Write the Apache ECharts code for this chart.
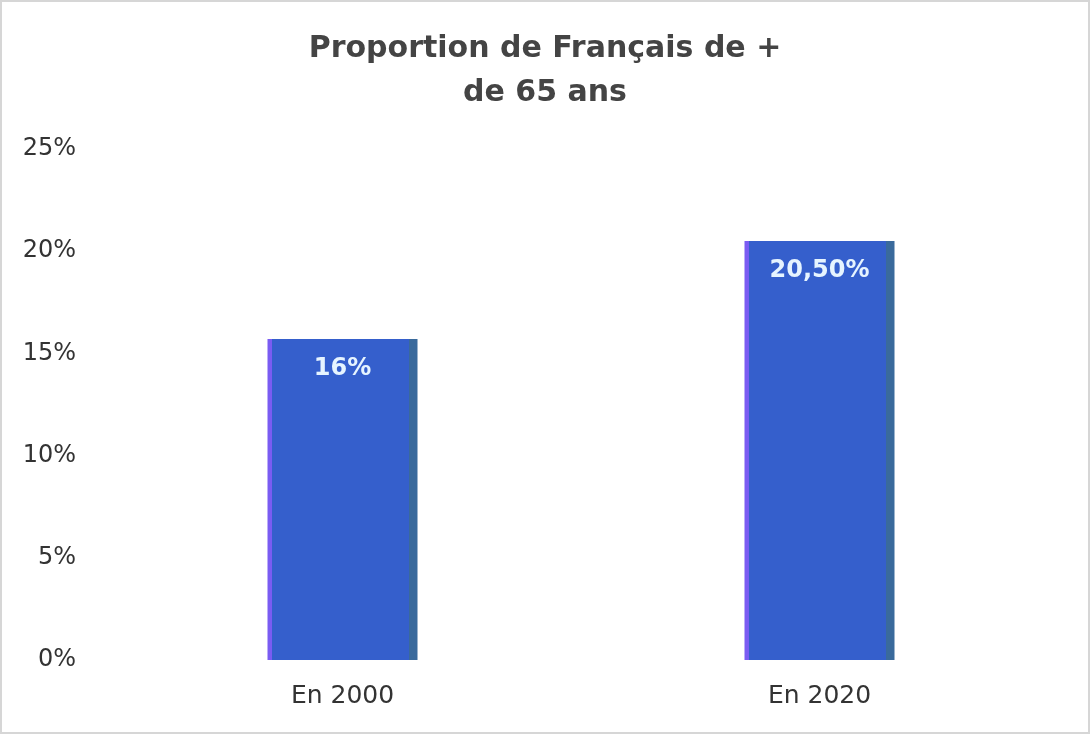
<!DOCTYPE html>
<html>
<head>
<meta charset="utf-8">
<script src="https://cdn.jsdelivr.net/npm/echarts@6/dist/echarts.min.js"></script>
<style>
  html, body { margin: 0; padding: 0; background: #fff; }
  #chart { width: 1086px; height: 730px; border: 2px solid #d6d6d6; }
</style>
</head>
<body>
<div id="chart"></div>
<script>
var categories = ['En 2000', 'En 2020'];
var values = [15.7, 20.5];
var valueLabels = ['16%', '20,50%'];
var yTicks = [0, 5, 10, 15, 20, 25];

var chart = echarts.init(document.getElementById('chart'));

var barColor = new echarts.graphic.LinearGradient(0, 0, 1, 0, [
    { offset: 0, color: '#7a5cf2' },
    { offset: 0.03, color: '#7a5cf2' },
    { offset: 0.031, color: '#355fcc' },
    { offset: 0.94, color: '#355fcc' },
    { offset: 0.941, color: '#3a6a9c' },
    { offset: 1, color: '#3a6a9c' }
]);

var option = {
    animation: false,
    title: {
        text: 'Proportion de Français de +\nde 65 ans',
        left: 'center',
        top: 20,
        textStyle: {
            fontFamily: 'DejaVu Sans',
            fontSize: 30,
            fontWeight: 'bold',
            color: '#444',
            lineHeight: 44
        }
    },
    grid: {
        left: 102,
        right: 30,
        top: 147,
        bottom: 72
    },
    xAxis: {
        type: 'category',
        data: categories,
        axisLine: { show: false },
        axisTick: { show: false },
        axisLabel: {
            fontFamily: 'DejaVu Sans',
            fontSize: 25,
            color: '#333',
            margin: 24
        }
    },
    yAxis: {
        type: 'value',
        min: yTicks[0],
        max: yTicks[yTicks.length - 1],
        interval: 5,
        splitLine: { show: false },
        axisLine: { show: false },
        axisTick: { show: false },
        axisLabel: {
            fontFamily: 'DejaVu Sans',
            fontSize: 24,
            color: '#333',
            margin: 28,
            formatter: function (v) { return v + '%'; }
        }
    },
    series: [{
        type: 'bar',
        data: values,
        barWidth: 150,
        itemStyle: { color: barColor },
        label: {
            show: true,
            position: 'insideTop',
            distance: 18,
            fontFamily: 'DejaVu Sans',
            fontSize: 24,
            fontWeight: 'bold',
            color: '#e6f4ff',
            formatter: function (p) { return valueLabels[p.dataIndex]; }
        }
    }]
};

chart.setOption(option);
</script>
</body>
</html>
